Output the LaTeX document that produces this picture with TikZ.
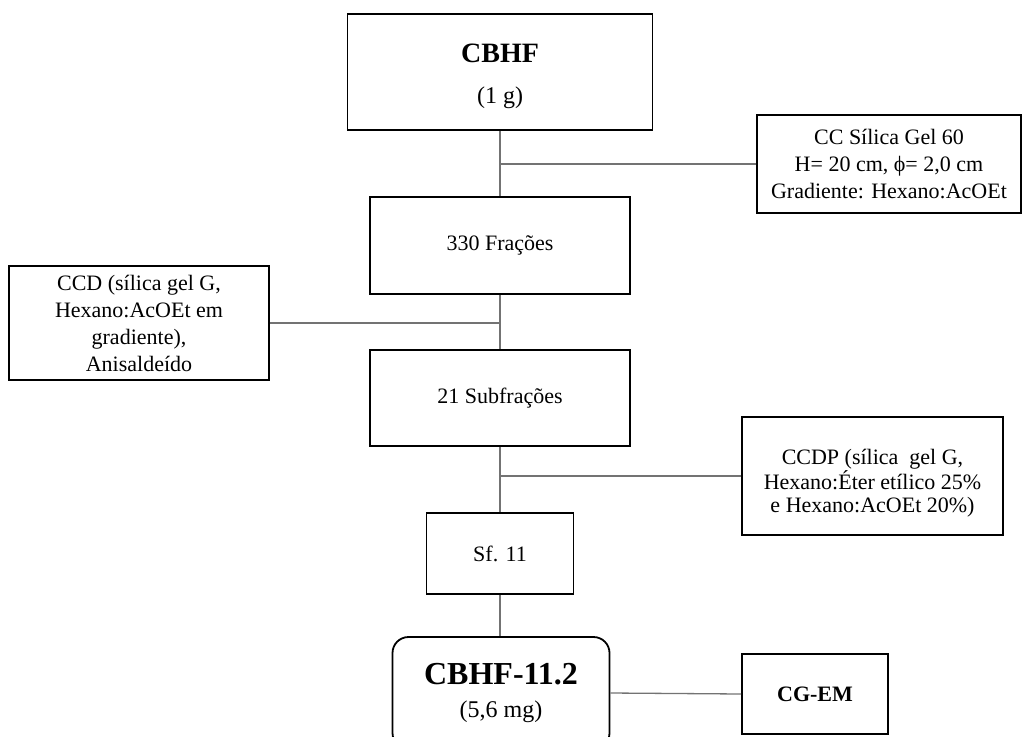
\documentclass[tikz,border=0pt]{standalone}
\usepackage{fontspec}
\setmainfont{Liberation Serif}
\begin{document}
\begin{tikzpicture}[x=1pt,y=-1pt,
  box/.style={draw=black, line width=1.8pt, align=center, inner sep=0pt,
    font=\fontsize{22}{26}\selectfont},
  link/.style={draw=black!55, line width=1.3pt}]
\useasboundingbox (0,0) rectangle (1022,736);

% main sequence
\node[box, minimum width=305pt, minimum height=116pt] (cbhf) at (500,72)
  {\rule{0pt}{27pt}{\fontsize{28}{28}\selectfont\bfseries CBHF}\\[15pt]{\fontsize{24}{24}\selectfont (1 g)}};
\node[box, minimum width=260pt, minimum height=97pt] (fr) at (500,245.5) {330 Frações};
\node[box, minimum width=260pt, minimum height=96pt] (sub) at (500,398) {21 Subfrações};
\node[box, minimum width=147pt, minimum height=81pt] (sf) at (500,553.5) {Sf. 11};
\node[box, rounded corners=16pt, minimum width=217pt, minimum height=112pt] (fin) at (501,693)
  {{\fontsize{32}{32}\selectfont\bfseries CBHF-11.2}\\[7pt]{\fontsize{24}{24}\selectfont (5,6 mg)}};

% side boxes
\node[box, font=\fontsize{22}{27}\selectfont, minimum width=264pt, minimum height=98pt] (cc) at (889,164)
  {CC Sílica Gel 60\\H= 20 cm, ϕ= 2,0 cm\\Gradiente: Hexano:AcOEt};
\node[box, font=\fontsize{22}{27}\selectfont, minimum width=260pt, minimum height=114pt] (ccd) at (139,323)
  {CCD (sílica gel G,\\Hexano:AcOEt em\\gradiente),\\Anisaldeído};
\node[box, font=\fontsize{22}{23.5}\selectfont, minimum width=261pt, minimum height=118pt] (ccdp) at (872.5,476)
  {\rule{0pt}{30pt}CCDP (sílica\ \ gel G,\\Hexano:Éter etílico 25\%\\e Hexano:AcOEt 20\%)};
\node[box, font=\fontsize{22}{26}\selectfont\bfseries, minimum width=146pt, minimum height=80pt] (cgem) at (815,694) {CG-EM};

% connectors
\draw[link] (cbhf.south) -- (fr.north);
\draw[link] (fr.south) -- (sub.north);
\draw[link] (sub.south) -- (sf.north);
\draw[link] (sf.south) -- (sf.south |- fin.north);
\draw[link] (cc.west) -- (cc.west -| cbhf.south);
\draw[link] (ccd.east) -- (ccd.east -| fr.south);
\draw[link] (ccdp.west) -- (ccdp.west -| sub.south);
\draw[link] (fin.east) -- (cgem.west);
\end{tikzpicture}
\end{document}
